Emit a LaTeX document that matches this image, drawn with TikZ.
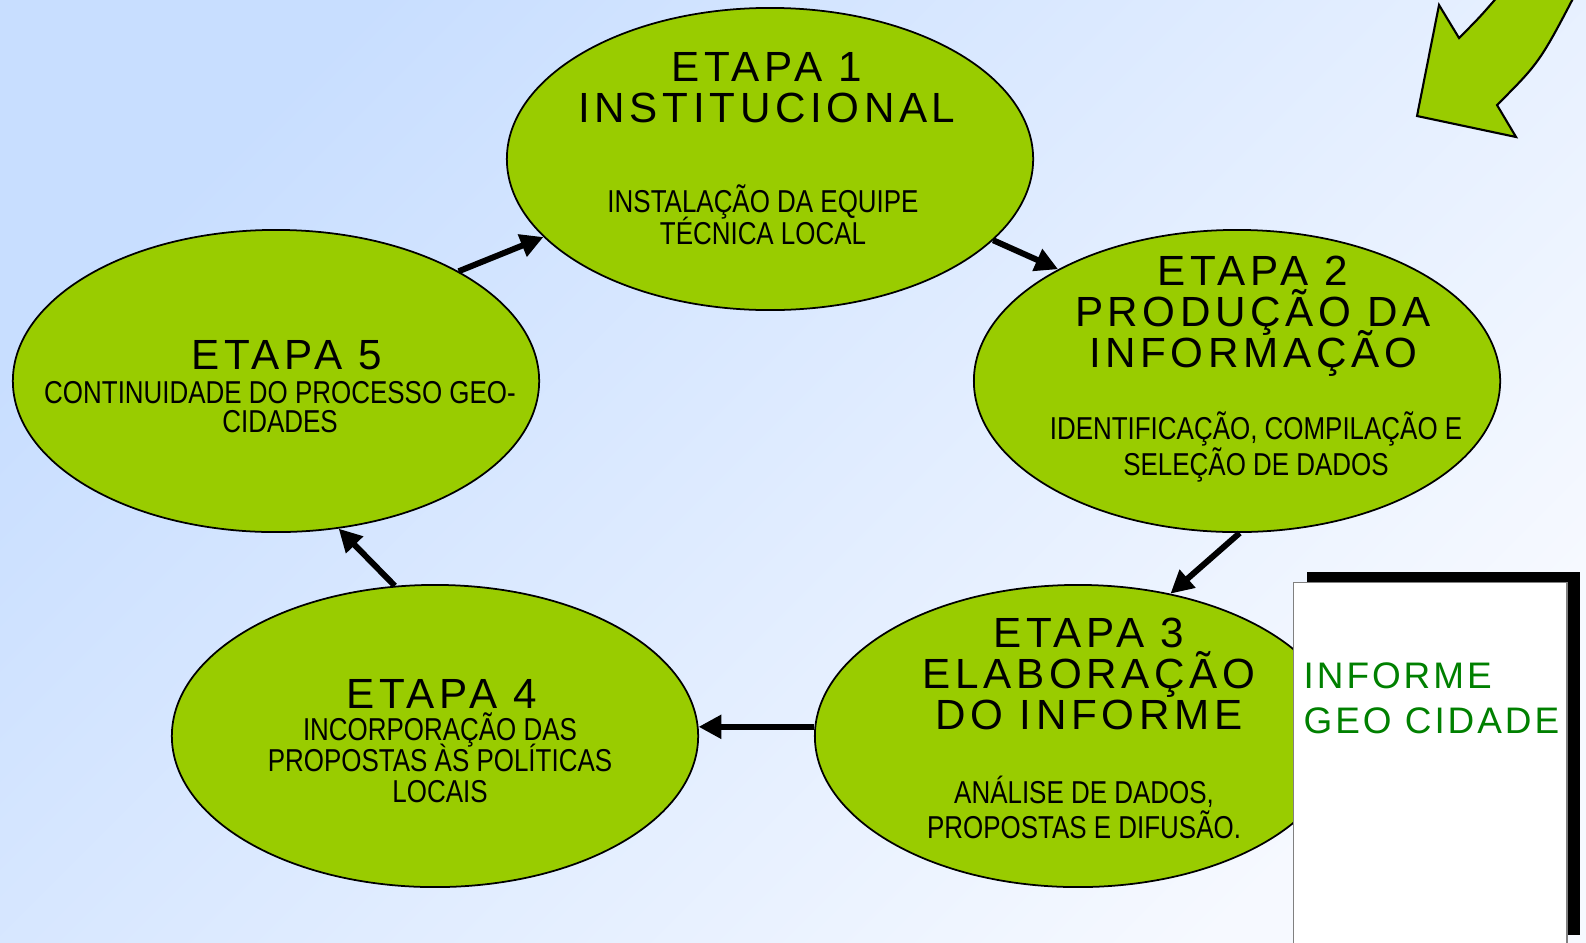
\documentclass[tikz,border=0pt]{standalone}
\usepackage{fontspec}
\setmainfont{Liberation Sans}
\newfontfamily\titlefont[LetterSpace=11]{Liberation Sans}
\newfontfamily\narrowfont[FakeStretch=0.82]{Liberation Sans}
\newfontfamily\boxfont[LetterSpace=8]{Liberation Sans}
\usetikzlibrary{shapes.geometric,arrows.meta}
\definecolor{etapagreen}{RGB}{153,204,0}
\definecolor{bgblue}{RGB}{200,222,255}
\definecolor{bgwhite}{RGB}{246,249,255}
\definecolor{infgreen}{RGB}{0,128,0}
\newcommand\tightlines{\setlength{\lineskiplimit}{-100pt}}

\begin{document}
\begin{tikzpicture}[x=0.01cm, y=-0.01cm,
    etapa/.style={ellipse, draw, line width=0.5pt, fill=etapagreen,
        minimum width=5.26cm, minimum height=3.02cm, inner sep=0pt},
    title/.style={anchor=base, align=center, inner sep=0pt,
        font=\titlefont\fontsize{12}{11.55}\selectfont\tightlines},
    sub/.style={anchor=base, align=center, inner sep=0pt,
        font=\narrowfont\fontsize{9}{#1}\selectfont\tightlines},
    sub/.default=9.8,
    flow/.style={line width=1.7pt, -{Triangle[length=6.5pt,width=6.5pt]}}]

    % Background
    \useasboundingbox (0,0) rectangle (1586,942);
    \clip (0,0) rectangle (1586,942);
    \shade[shading=axis, top color=bgblue, bottom color=bgwhite, shading angle=45]
        (0,0) rectangle (1586,942);

    % Curved green arrow in the corner
    \draw[line width=0.6pt, fill=etapagreen, line join=miter]
        (1505,-12) .. controls (1480,17) .. (1459,38) -- (1439,5) -- (1417,116)
        -- (1516,137) -- (1497,105) .. controls (1540,62) .. (1580,-15) -- cycle;

    % Draw nodes
    \node[etapa] (e1) at (770,159) {};
    \node[etapa] (e2) at (1237,381) {};
    \node[etapa] (e3) at (1078,736) {};
    \node[etapa] (e4) at (435,736) {};
    \node[etapa] (e5) at (276,381) {};

    % Texts inside the nodes (placed by the baseline of their last line)
    \node[title] (t1) at (767,122) {ETAPA 1\\INSTITUCIONAL};
    \node[sub=9.1] (s1) at (763,244) {INSTALAÇÃO DA EQUIPE\\TÉCNICA LOCAL};
    \node[title] (t2) at (1253,367) {ETAPA 2\\PRODUÇÃO DA\\INFORMAÇÃO};
    \node[sub=10] (s2) at (1256,475) {IDENTIFICAÇÃO, COMPILAÇÃO E\\SELEÇÃO DE DADOS};
    \node[title] (t3) at (1089,729) {ETAPA 3\\ELABORAÇÃO\\DO INFORME};
    \node[sub=9.7] (s3) at (1084,838) {ANÁLISE DE DADOS,\\PROPOSTAS E DIFUSÃO.};
    \node[title] (t4) at (442,708) {ETAPA 4};
    \node[sub=8.8] (s4) at (440,802) {INCORPORAÇÃO DAS\\PROPOSTAS ÀS POLÍTICAS\\LOCAIS};
    \node[title] (t5) at (287,369) {ETAPA 5};
    \node[sub=8.1] (s5) at (280,432) {CONTINUIDADE DO PROCESSO GEO-\\CIDADES};

    % Draw edges
    \draw[flow] (e5.31) -- (e1.199);
    \draw[flow] (e1.340) -- (e2.148);
    \draw[flow] (e2.271) -- (e3.57);
    \draw[flow] (e3.178) -- (e4.2);
    \draw[flow] (e4.105) -- (e5.293);

    % Report sheet with its shadow
    \fill[black] (1307,572) rectangle (1580,935);
    \node[draw=gray, line width=0.4pt, fill=white, anchor=north west, inner sep=0pt,
        minimum width=2.73cm, minimum height=3.8cm] (box) at (1293,582) {};
    \node[anchor=base west, align=left, inner sep=0pt, text=infgreen,
        font=\boxfont\fontsize{10.5}{12.8}\selectfont] (inf) at (1303,733) {INFORME\\GEO CIDADE};
\end{tikzpicture}
\end{document}
